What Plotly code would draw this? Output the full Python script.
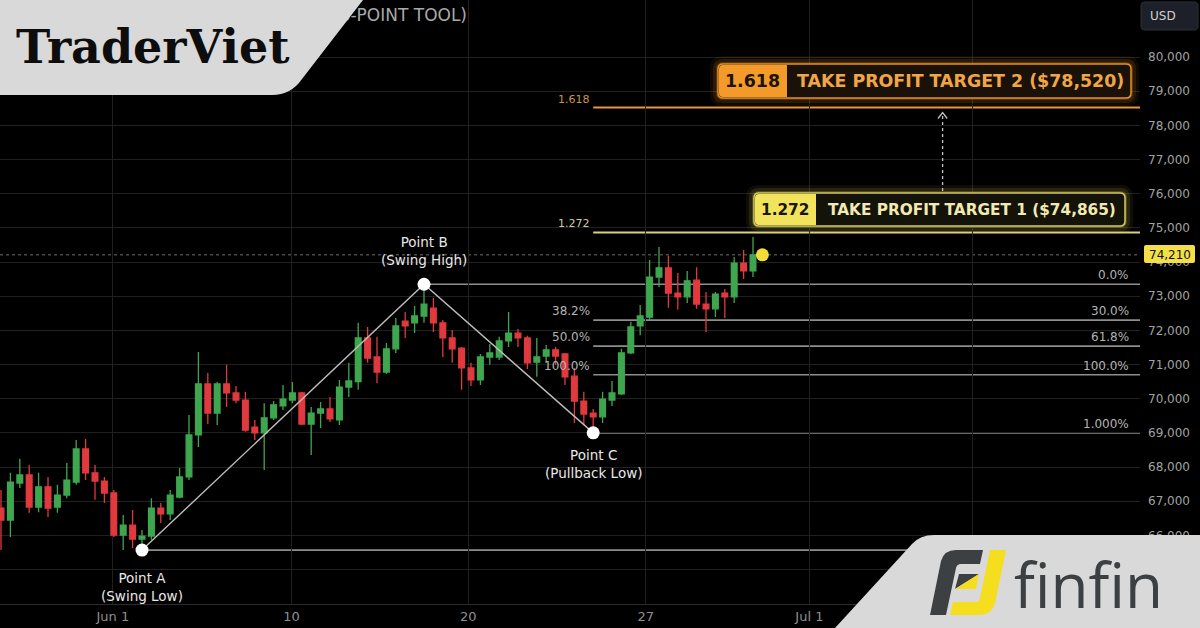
import plotly.graph_objects as go

# ---------------- data ----------------
OPEN = [66800, 66450, 67530, 67770, 66830, 67420, 66830, 67180, 67560, 68530,
        67830, 67590, 67240, 66010, 66300, 65890, 65980, 66800, 66630, 67120,
        67710, 68940, 70430, 69580, 70430, 70170, 69960, 69170, 69000, 69440,
        69790, 69960, 70170, 69260, 69580, 69700, 69380, 70340, 70500, 71780,
        71220, 70780, 71460, 72270, 72220, 72420, 72650, 72220, 71780, 71480,
        70900, 70550, 71220, 71220, 71690, 71920, 71780, 71070, 71250, 71430,
        71310, 70660, 69930, 69580, 69470, 69960, 70140, 71340, 72130, 72390,
        73560, 73830, 73090, 72980, 73470, 72770, 72630, 73090, 72980, 73970,
        73740]
HIGH = [67330, 67830, 68240, 68060, 67830, 67710, 67480, 68120, 68790, 68820,
        68060, 67710, 67330, 66600, 66740, 66160, 67090, 66950, 67330, 67970,
        69520, 71370, 70750, 70490, 70990, 70370, 70200, 69380, 69870, 69930,
        70400, 70490, 70200, 69760, 69900, 70050, 70550, 71050, 72220, 72100,
        71810, 71630, 72360, 72540, 72710, 73270, 72950, 72300, 72010, 71510,
        71050, 71310, 71600, 71810, 72540, 72040, 71840, 71780, 71570, 71510,
        71340, 70900, 70200, 69700, 70200, 70520, 71460, 72250, 72740, 74060,
        74440, 74180, 73680, 73740, 73850, 73120, 73120, 73210, 74150, 74350,
        74730]
LOW = [65570, 65950, 67390, 66660, 66680, 66540, 66660, 67090, 67480, 67620,
       67040, 66950, 65950, 65570, 65630, 65720, 65870, 66360, 66450, 67090,
       67620, 68590, 69260, 69230, 69760, 69870, 69030, 68790, 67910, 69380,
       69670, 69870, 69230, 68350, 69140, 69320, 69230, 70050, 70260, 71050,
       70460, 70720, 71340, 71780, 71920, 72220, 71950, 71220, 71050, 70260,
       70370, 70400, 70990, 71130, 71510, 71510, 70870, 70640, 71050, 70990,
       70400, 69290, 69230, 69140, 69290, 69790, 70110, 71310, 71860, 72300,
       73270, 72660, 72600, 72800, 72630, 71950, 72390, 72360, 72800, 73500,
       73560]
CLOSE = [66450, 67560, 67770, 66830, 67420, 66800, 67180, 67620, 68530, 67830,
         67590, 67240, 66010, 66300, 65890, 65980, 66800, 66630, 67180, 67710,
         68940, 70430, 69580, 70430, 70170, 69960, 69080, 69000, 69440, 69820,
         69990, 70170, 69260, 69580, 69700, 69410, 70340, 70520, 71780, 71190,
         70780, 71460, 72130, 72130, 72420, 72770, 72220, 71780, 71460, 70900,
         70550, 71220, 71340, 71690, 71920, 71780, 71050, 71220, 71430, 71250,
         70640, 69930, 69550, 69470, 69990, 70170, 71340, 72100, 72420, 73560,
         73830, 73090, 72980, 73450, 72770, 72630, 73060, 72980, 73970, 73740,
         74210]

TICK_POS = [11.9, 30.9, 49.7, 68.6, 86.0, 103.3]
TICK_LABELS = ["Jun 1", "10", "20", "27", "Jul 1", ""]
PRICE_TICKS = [65000, 66000, 67000, 68000, 69000, 70000, 71000, 72000,
               73000, 74000, 75000, 76000, 77000, 78000, 79000, 80000]
PRICE_LABELS = ["", "66,000", "67,000", "68,000", "69,000", "70,000", "71,000",
                "72,000", "73,000", "74,000", "75,000", "76,000", "77,000",
                "78,000", "79,000", "80,000"]

POINT_IDX = [15, 45, 63]
POINT_PRICE = [65570, 73350, 69000]
POINT_NAMES = ["Point A", "Point B", "Point C"]
POINT_NOTES = ["(Swing Low)", "(Swing High)", "(Pullback Low)"]

CURRENT_IDX = 81
CURRENT_PRICE = 74210

RETR_LEVELS = [72300, 71540, 70700]
RETR_LEFT = ["38.2%", "50.0%", "100.0%"]
RIGHT_LEVELS = [73350, 72300, 71540, 70700, 69000]
RIGHT_LABELS = ["0.0%", "30.0%", "61.8%", "100.0%", "1.000%"]
EXT_LEVELS = [74865, 78520]
EXT_RATIOS = ["1.272", "1.618"]
EXT_TITLES = ["TAKE PROFIT TARGET 1 ($74,865)", "TAKE PROFIT TARGET 2 ($78,520)"]

TITLE = "(3-POINT TOOL)"

# ---------------- geometry helpers ----------------
W, H = 1200, 628
M_L, M_R, M_T, M_B = 0, 60, 0, 24
PW, PH = W - M_L - M_R, H - M_T - M_B
X_RANGE = [-0.106, 121.17]
Y_RANGE = [63992, 81668]


def fx(x):
    return (x - M_L) / PW


def fy(y):
    return (PH + M_T - y) / PH


def pth(cmds):
    out = []
    for c in cmds:
        if c[0] == "Z":
            out.append("Z")
        elif c[0] == "Q":
            out.append("Q%.5f,%.5f %.5f,%.5f" % (fx(c[1]), fy(c[2]), fx(c[3]), fy(c[4])))
        else:
            out.append("%s%.5f,%.5f" % (c[0], fx(c[1]), fy(c[2])))
    return " ".join(out)


def rrect(x0, y0, x1, y1, r, right_round=True):
    rr = r if right_round else 0
    cmds = [("M", x0 + r, y0), ("L", x1 - rr, y0)]
    if rr:
        cmds.append(("Q", x1, y0, x1, y0 + rr))
    cmds.append(("L", x1, y1 - rr))
    if rr:
        cmds.append(("Q", x1, y1, x1 - rr, y1))
    cmds += [("L", x0 + r, y1), ("Q", x0, y1, x0, y1 - r),
             ("L", x0, y0 + r), ("Q", x0, y0, x0 + r, y0), ("Z",)]
    return pth(cmds)


def pshape(path, fill, line_color=None, line_width=0, layer="above"):
    return dict(type="path", xref="paper", yref="paper", path=path,
                fillcolor=fill, layer=layer,
                line=dict(color=line_color or "rgba(0,0,0,0)", width=line_width))


GREEN = "#3fa650"
RED = "#e0393e"
GRID = "#202020"
FONT = "DejaVu Sans"
IDX = list(range(len(OPEN)))

fig = go.Figure()

fig.add_trace(go.Candlestick(
    x=IDX, open=OPEN, high=HIGH, low=LOW, close=CLOSE,
    increasing=dict(line=dict(color=GREEN, width=1.3), fillcolor=GREEN),
    decreasing=dict(line=dict(color=RED, width=1.3), fillcolor=RED),
    whiskerwidth=0, hoverinfo="skip", showlegend=False))

# zig-zag A-B-C
fig.add_trace(go.Scatter(x=POINT_IDX, y=POINT_PRICE, mode="lines",
                         line=dict(color="#bcbcbc", width=1.4),
                         hoverinfo="skip", showlegend=False))
fig.add_trace(go.Scatter(x=POINT_IDX, y=POINT_PRICE, mode="markers",
                         marker=dict(color="#ffffff", size=13),
                         hoverinfo="skip", showlegend=False))
fig.add_trace(go.Scatter(x=[CURRENT_IDX], y=[CURRENT_PRICE], mode="markers",
                         marker=dict(color="#f3dc3a", size=13),
                         hoverinfo="skip", showlegend=False))

# title text on an overlay (paper-like) axis pair, partly hidden by the badge
fig.add_trace(go.Scatter(x=[fx(467)], y=[fy(17)], xaxis="x2", yaxis="y2",
                         mode="text", text=[TITLE], textposition="middle left",
                         textfont=dict(family=FONT, size=17, color="#a9a9a9"),
                         hoverinfo="skip", showlegend=False))

shapes = []
annos = []

# ---- level lines ----
shapes.append(dict(type="line", xref="paper", yref="y", x0=0, x1=1,
                   y0=CURRENT_PRICE, y1=CURRENT_PRICE, layer="below",
                   line=dict(color="#6e6e6e", width=1, dash="dot")))
shapes.append(dict(type="line", xref="x", yref="y", x0=POINT_IDX[0], x1=X_RANGE[1],
                   y0=POINT_PRICE[0], y1=POINT_PRICE[0], layer="below",
                   line=dict(color="#8e8e8e", width=1.6)))
shapes.append(dict(type="line", xref="x", yref="y", x0=POINT_IDX[1], x1=X_RANGE[1],
                   y0=RIGHT_LEVELS[0], y1=RIGHT_LEVELS[0], layer="below",
                   line=dict(color="#8e8e8e", width=1.6)))
for lv in RIGHT_LEVELS[1:]:
    shapes.append(dict(type="line", xref="x", yref="y", x0=POINT_IDX[2], x1=X_RANGE[1],
                       y0=lv, y1=lv, layer="below",
                       line=dict(color="#8e8e8e", width=1.6)))
EXT_COLORS = ["#dcd27a", "#e8973a"]
EXT_LABEL_COLORS = ["#cfc9a4", "#c9944e"]
for lv, col in zip(EXT_LEVELS, EXT_COLORS):
    shapes.append(dict(type="line", xref="x", yref="y", x0=POINT_IDX[2], x1=X_RANGE[1],
                       y0=lv, y1=lv, layer="below", line=dict(color=col, width=2)))

# ---- level labels ----
for lv, txt in zip(RETR_LEVELS, RETR_LEFT):
    annos.append(dict(x=POINT_IDX[2], y=lv, xref="x", yref="y", text=txt,
                      showarrow=False, xanchor="right", yanchor="bottom", xshift=-1,
                      font=dict(family=FONT, size=12, color="#b4b4b4")))
for lv, txt in zip(RIGHT_LEVELS, RIGHT_LABELS):
    annos.append(dict(x=fx(1131), y=lv, xref="paper", yref="y", text=txt,
                      showarrow=False, xanchor="right", yanchor="bottom",
                      font=dict(family=FONT, size=12, color="#b4b4b4")))
for lv, txt, col in zip(EXT_LEVELS, EXT_RATIOS, EXT_LABEL_COLORS):
    annos.append(dict(x=POINT_IDX[2], y=lv, xref="x", yref="y", text=txt,
                      showarrow=False, xanchor="right", yanchor="bottom", xshift=-1,
                      font=dict(family=FONT, size=11, color=col)))

# ---- point labels ----
YSHIFTS = [-18, 14, -12]
for i, (nm, note) in enumerate(zip(POINT_NAMES, POINT_NOTES)):
    annos.append(dict(x=POINT_IDX[i], y=POINT_PRICE[i], xref="x", yref="y",
                      text=nm + "<br>" + note, showarrow=False,
                      yanchor="bottom" if YSHIFTS[i] > 0 else "top",
                      yshift=YSHIFTS[i], align="center",
                      font=dict(family=FONT, size=13.5, color="#e8e8e8")))

# ---- take profit boxes ----
BOXES = [  # (x0, y0, x_split, x1, y1, main colour, tag colour, text colour, fill, size)
    (754, 193, 816, 1125, 226, "#d8cb5c", "#f2e35c", "#f2eab0", "#14130a", 15.3),
    (718, 64, 787, 1131, 98, "#e8902a", "#f39a2b", "#f0a548", "#1a1208", 17.4),
]
for (x0, y0, xs, x1, y1, mc, tc, txc, fill, fs), ratio, title in zip(BOXES, EXT_RATIOS, EXT_TITLES):
    for g, a in ((8, 0.07), (5, 0.12), (2, 0.22)):
        shapes.append(pshape(rrect(x0 - g, y0 - g, x1 + g, y1 + g, 5 + g),
                             "rgba(%d,%d,%d,%.2f)" % (int(mc[1:3], 16), int(mc[3:5], 16),
                                                     int(mc[5:7], 16), a)))
    shapes.append(pshape(rrect(x0, y0, x1, y1, 5), fill, mc, 1.5))
    shapes.append(pshape(rrect(x0 + 1, y0 + 1, xs, y1 - 1, 4, right_round=False), tc))
    annos.append(dict(x=fx((x0 + xs) / 2), y=fy((y0 + y1) / 2), xref="paper", yref="paper",
                      text=ratio, showarrow=False, xanchor="center", yanchor="middle",
                      font=dict(family=FONT, size=fs, color="#1a1400", weight="bold")))
    annos.append(dict(x=fx((xs + x1) / 2 + 1), y=fy((y0 + y1) / 2), xref="paper", yref="paper",
                      text=title, showarrow=False, xanchor="center", yanchor="middle",
                      font=dict(family=FONT, size=fs, color=txc, weight="bold")))

# dotted arrow between the targets
shapes.append(dict(type="line", xref="paper", yref="paper", x0=fx(942.6), x1=fx(942.6),
                   y0=fy(191), y1=fy(114), layer="above",
                   line=dict(color="#c4c4c4", width=1.3, dash="dot")))
shapes.append(dict(type="path", xref="paper", yref="paper", layer="above",
                   path=pth([("M", 938, 118.5), ("L", 942.6, 112.5), ("L", 947.2, 118.5)]),
                   line=dict(color="#c4c4c4", width=1.3)))

# ---- right axis badges ----
shapes.append(pshape(rrect(1141, 2, 1198, 30, 4), "#1d2029", "#2c303a", 1))
annos.append(dict(x=fx(1148), y=fy(16), xref="paper", yref="paper", text="USD",
                  showarrow=False, xanchor="left", yanchor="middle",
                  font=dict(family=FONT, size=12, color="#d2d2d2")))
shapes.append(pshape(rrect(1144, 245, 1195, 263, 2), "#f3df48"))
annos.append(dict(x=fx(1169.5), y=CURRENT_PRICE, xref="paper", yref="y",
                  text="{:,}".format(CURRENT_PRICE), showarrow=False,
                  xanchor="center", yanchor="middle",
                  font=dict(family=FONT, size=12, color="#111111")))

# ---- TraderViet badge ----
shapes.append(pshape(pth([("M", 0, 0), ("L", 363, 0), ("L", 302, 79),
                          ("Q", 291, 95, 272, 95), ("L", 0, 95), ("Z",)]), "#d9d9d9"))
annos.append(dict(x=fx(153), y=fy(47), xref="paper", yref="paper", text="TraderViet",
                  showarrow=False, xanchor="center", yanchor="middle",
                  font=dict(family="DejaVu Serif", size=46, color="#0d0d0d", weight="bold")))

# ---- finfin badge ----
shapes.append(pshape(pth([("M", 835, 628), ("L", 912, 544), ("Q", 920, 535, 934, 535),
                          ("L", 1200, 535), ("L", 1200, 628), ("Z",)]), "#d9d9d9"))
shapes.append(pshape(pth([("M", 930, 615), ("L", 941, 561), ("Q", 944, 550, 956, 550),
                          ("L", 983, 550), ("L", 980, 564), ("L", 961, 564),
                          ("Q", 957, 564, 956, 568), ("L", 946, 615), ("Z",)]), "#3d4043"))
shapes.append(pshape(pth([("M", 959, 574), ("L", 979, 574), ("L", 955, 589), ("Z",)]), "#3d4043"))
shapes.append(pshape(pth([("M", 979, 574), ("L", 976, 589), ("L", 955, 589), ("Z",)]), "#f4de1e"))
shapes.append(pshape(pth([("M", 990, 550), ("L", 1006, 550), ("L", 995, 603),
                          ("Q", 992, 615, 978, 615), ("L", 950, 615), ("L", 953, 602),
                          ("L", 976, 602), ("Q", 979, 602, 980, 598), ("Z",)]), "#f4de1e"))
annos.append(dict(x=fx(1088), y=fy(584), xref="paper", yref="paper", text="finfin",
                  showarrow=False, xanchor="center", yanchor="middle",
                  font=dict(family="Open Sans", size=62, color="#3d4043", weight=400)))

fig.update_layout(
    width=W, height=H, autosize=False,
    margin=dict(l=M_L, r=M_R, t=M_T, b=M_B, pad=0),
    paper_bgcolor="#000000", plot_bgcolor="#000000",
    showlegend=False, hovermode=False,
    boxgap=0.22, boxgroupgap=0.22,
    xaxis=dict(range=X_RANGE, tickmode="array", tickvals=TICK_POS, ticktext=TICK_LABELS,
               showgrid=True, gridcolor=GRID, gridwidth=1, zeroline=False,
               showline=True, linecolor="#2c2c2c", linewidth=1, ticks="",
               tickfont=dict(family=FONT, size=13, color="#909090"),
               rangeslider=dict(visible=False), fixedrange=True),
    yaxis=dict(range=Y_RANGE, side="right", tickmode="array", tickvals=PRICE_TICKS,
               ticktext=PRICE_LABELS, showgrid=True, gridcolor=GRID, gridwidth=1,
               zeroline=False, showline=False, ticks="", ticklabelstandoff=7,
               tickfont=dict(family=FONT, size=12, color="#a2a2a2"), fixedrange=True),
    xaxis2=dict(overlaying="x", anchor="y2", range=[0, 1], visible=False, fixedrange=True),
    yaxis2=dict(overlaying="y", anchor="x2", range=[0, 1], visible=False, fixedrange=True),
    shapes=shapes, annotations=annos,
)

fig.write_html("out.html", config={"displayModeBar": False, "staticPlot": True})
